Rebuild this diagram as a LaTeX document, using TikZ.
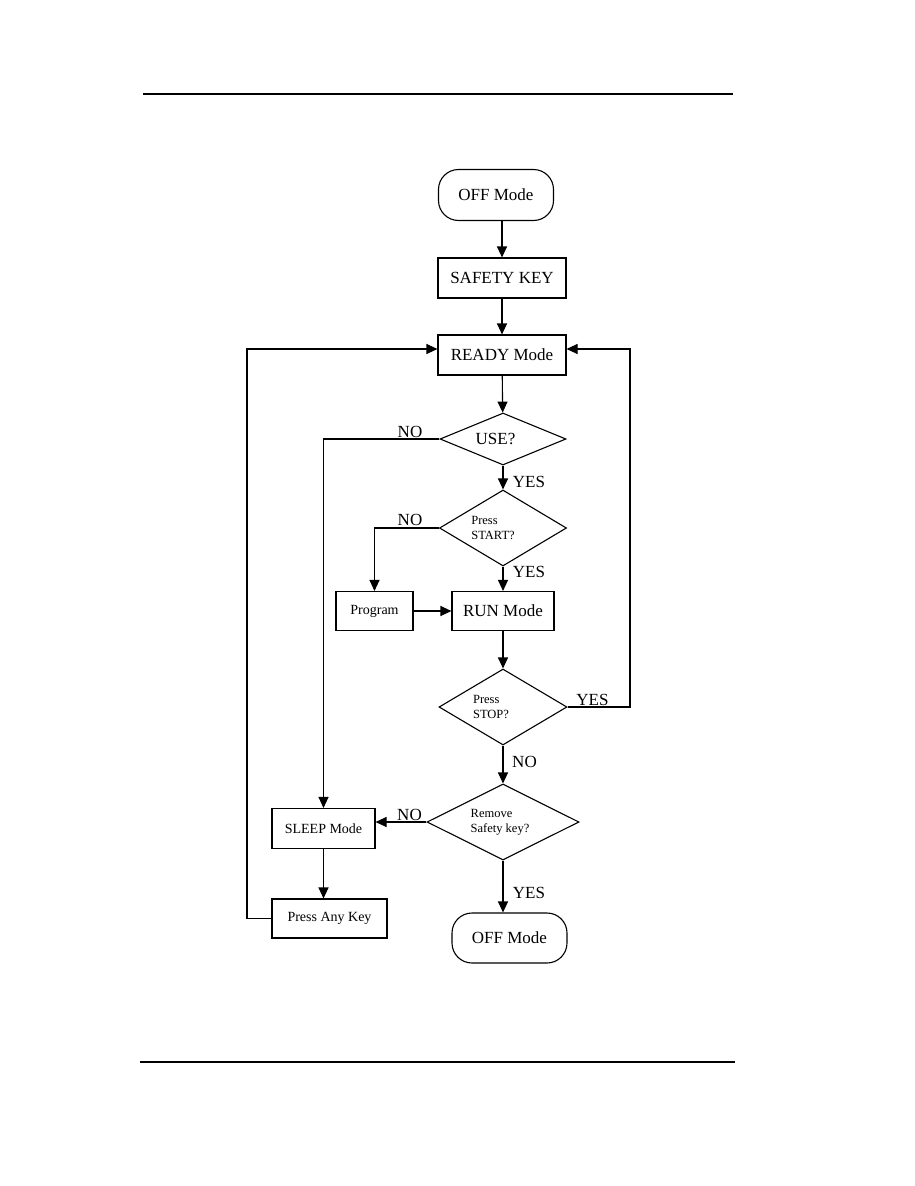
\documentclass[tikz,border=0pt]{standalone}
\usepackage{fontspec}
\setmainfont{Liberation Serif}
\usetikzlibrary{shapes.geometric,arrows.meta}
\begin{document}
\begin{tikzpicture}[x=1pt,y=-1pt,line width=1.1pt,>={Triangle[length=11pt,width=10pt]},
  box/.style={draw,rectangle,inner sep=0pt,font=\fontsize{17}{20}\selectfont},
  sbox/.style={box,font=\fontsize{14}{16}\selectfont},
  term/.style={box,rounded corners=20pt},
  ask/.style={draw,diamond,inner sep=0pt,align=left,font=\fontsize{12.5}{15.5}\selectfont},
  lbl/.style={font=\fontsize{17}{20}\selectfont,inner sep=0pt}]
\useasboundingbox(0,0)rectangle(914,1186);
\draw[line width=1.8pt](143,94)--(733,94);\draw[line width=1.4pt](140,1062)--(735,1062);
% boxes
\node[term,minimum width=115,minimum height=51](off1)at(496,195){OFF Mode};
\node[box,minimum width=128,minimum height=40](safe)at(502,278){SAFETY KEY};
\node[box,minimum width=128,minimum height=40](ready)at(502,355){READY Mode};
\node[ask,aspect=2.4,minimum width=126,minimum height=52,font=\fontsize{17}{20}\selectfont](use)at(503,439){USE?\hspace*{15pt}};
\node[ask,aspect=1.66,minimum width=127,minimum height=76](start)at(503,528){Press\\START?\hspace*{20pt}};
\node[sbox,minimum width=77,minimum height=39](prog)at(374.5,611){Program};
\node[box,minimum width=102,minimum height=39](run)at(503,611){RUN Mode};
\node[ask,aspect=1.68,minimum width=128,minimum height=76](stop)at(503,707){Press\\STOP?\hspace*{24pt}};
\node[ask,aspect=2,minimum width=152,minimum height=76](rem)at(503,822){Remove\\Safety key?\hspace*{6pt}};
\node[sbox,minimum width=103,minimum height=40](sleep)at(323.5,828.5){SLEEP Mode};
\node[sbox,minimum width=115,minimum height=39](key)at(329.5,918.5){Press Any Key};
\node[term,minimum width=115,minimum height=50](off2)at(509.5,938){OFF Mode};
% labels
\node[lbl](no1)at(410,432){NO};\node[lbl](yes1)at(529,482){YES};
\node[lbl](no2)at(410,520){NO};\node[lbl](yes2)at(529,572){YES};
\node[lbl](yes3)at(592.5,700){YES};\node[lbl](no3)at(524.5,762){NO};
\node[lbl](no4)at(409.5,815){NO};\node[lbl](yes4)at(529,893){YES};
% connectors
\coordinate(rr)at(630,0);\coordinate(ll)at(247,0);
\coordinate(rin)at([yshift=6pt]ready.east);\coordinate(lin)at([yshift=6pt]ready.west);
\draw[->](off1.south-|safe)--(safe);\draw[->](safe)--(ready);\draw[->](ready)--(use);
\draw[->](use)--(start);\draw[->](use.west)-|(sleep);
\draw[->](start)--(run);\draw[->](start.west)-|(prog);\draw[->](prog)--(run);
\draw[->](run)--(stop);\draw[->](stop.east)-|(rr|-rin)--(rin);
\draw[->](stop)--(rem);\draw[->](rem.west)--(rem.west-|sleep.east);
\draw[->](rem)--(rem.south|-off2.north);
\draw[->](sleep)--(sleep.south|-key.north);
\draw[->](key.west)-|(ll|-lin)--(lin);
\end{tikzpicture}
\end{document}
